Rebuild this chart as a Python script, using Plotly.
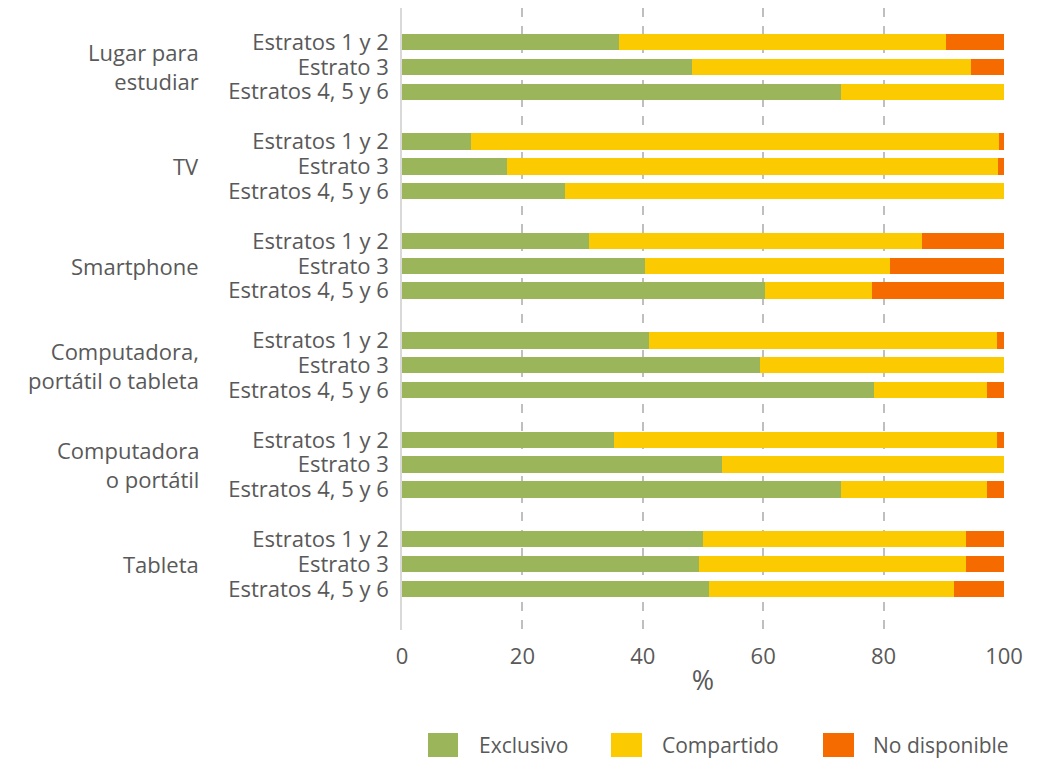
import plotly.graph_objects as go

groups = ["Lugar para<br>estudiar", "TV", "Smartphone",
          "Computadora,<br>portátil o tableta", "Computadora<br>o portátil", "Tableta"]
strata = ["Estratos 1 y 2", "Estrato 3", "Estratos 4, 5 y 6"]

# values per group, per stratum (percent)
exclusivo = [
    [36.0, 48.2, 73.0],
    [11.5, 17.5, 27.0],
    [31.0, 40.3, 60.3],
    [41.0, 59.4, 78.4],
    [35.2, 53.1, 73.0],
    [50.0, 49.4, 51.0],
]
compartido = [
    [54.4, 46.4, 27.0],
    [87.7, 81.5, 73.0],
    [55.3, 40.8, 17.8],
    [57.8, 40.6, 18.8],
    [63.6, 46.9, 24.2],
    [43.7, 44.3, 40.7],
]
no_disponible = [
    [9.6, 5.4, 0.0],
    [0.8, 1.0, 0.0],
    [13.7, 18.9, 21.9],
    [1.2, 0.0, 2.8],
    [1.2, 0.0, 2.8],
    [6.3, 6.3, 8.3],
]

series_names = ["Exclusivo", "Compartido", "No disponible"]
colors = ["#9BB65A", "#FCCA00", "#F56B00"]

# build category list with spacer categories between groups
cats, ticktext = [], []
vals = {n: [] for n in series_names}
mid_cats = []
for gi, g in enumerate(groups):
    for si, s in enumerate(strata):
        key = f"g{gi}_s{si}"
        cats.append(key)
        ticktext.append(s)
        vals["Exclusivo"].append(exclusivo[gi][si])
        vals["Compartido"].append(compartido[gi][si])
        vals["No disponible"].append(no_disponible[gi][si])
        if si == 1:
            mid_cats.append(key)
    if gi < len(groups) - 1:
        cats.append(f"gap{gi}")
        ticktext.append("")

bar_cats = [c for c in cats if not c.startswith("gap")]

FONT = "'Open Sans', sans-serif"
TXT = "#595959"
FS = 22

fig = go.Figure()
for name, col in zip(series_names, colors):
    fig.add_trace(go.Bar(
        y=bar_cats, x=vals[name], name=name, orientation="h",
        marker=dict(color=col, line=dict(width=0)),
        showlegend=False,
    ))

for g, mc in zip(groups, mid_cats):
    fig.add_annotation(
        text=g, xref="paper", x=0, xshift=-201, xanchor="right",
        yref="y", y=mc, yanchor="middle", showarrow=False, align="right",
        font=dict(family=FONT, size=FS, color=TXT),
    )

# manual legend with large square swatches (paper coordinates)
legend_sq = [(0.0432, 0.0930), (0.3472, 0.3987), (0.6993, 0.7508)]
legend_tx = [0.1246, 0.4286, 0.7791]
for name, col, (x0, x1), tx in zip(series_names, colors, legend_sq, legend_tx):
    fig.add_shape(type="rect", xref="paper", yref="paper",
                  x0=x0, x1=x1, y0=-0.2042, y1=-0.1656,
                  fillcolor=col, line=dict(width=0))
    fig.add_annotation(text=name, xref="paper", yref="paper", x=tx, y=-0.1849,
                       xanchor="left", yanchor="middle", showarrow=False,
                       font=dict(family=FONT, size=21, color=TXT))

n = len(cats)
fig.update_layout(
    barmode="stack",
    bargap=0.34,
    width=1041, height=751,
    margin=dict(l=394, r=45, t=0, b=129),
    paper_bgcolor="white", plot_bgcolor="white",
    font=dict(family=FONT, size=FS, color=TXT),
    showlegend=False,
    xaxis=dict(range=[0, 100], tickvals=[0, 20, 40, 60, 80, 100],
               showgrid=True, gridcolor="#BFBFBF", griddash="dash", gridwidth=2,
               zeroline=False, showline=False, ticklabelstandoff=11,
               title=dict(text="%", font=dict(size=27, color=TXT), standoff=2),
               tickfont=dict(size=FS, color=TXT)),
    yaxis=dict(categoryorder="array", categoryarray=cats, type="category",
               tickmode="array", tickvals=cats, ticktext=ticktext,
               range=[n - 1 + 1.65, -1.37],
               showgrid=False, showline=True, linecolor="#D9D9D9", linewidth=1.5,
               ticks="", ticklabelstandoff=7,
               tickfont=dict(size=FS, color=TXT)),
)

fig.write_html("out.html")
